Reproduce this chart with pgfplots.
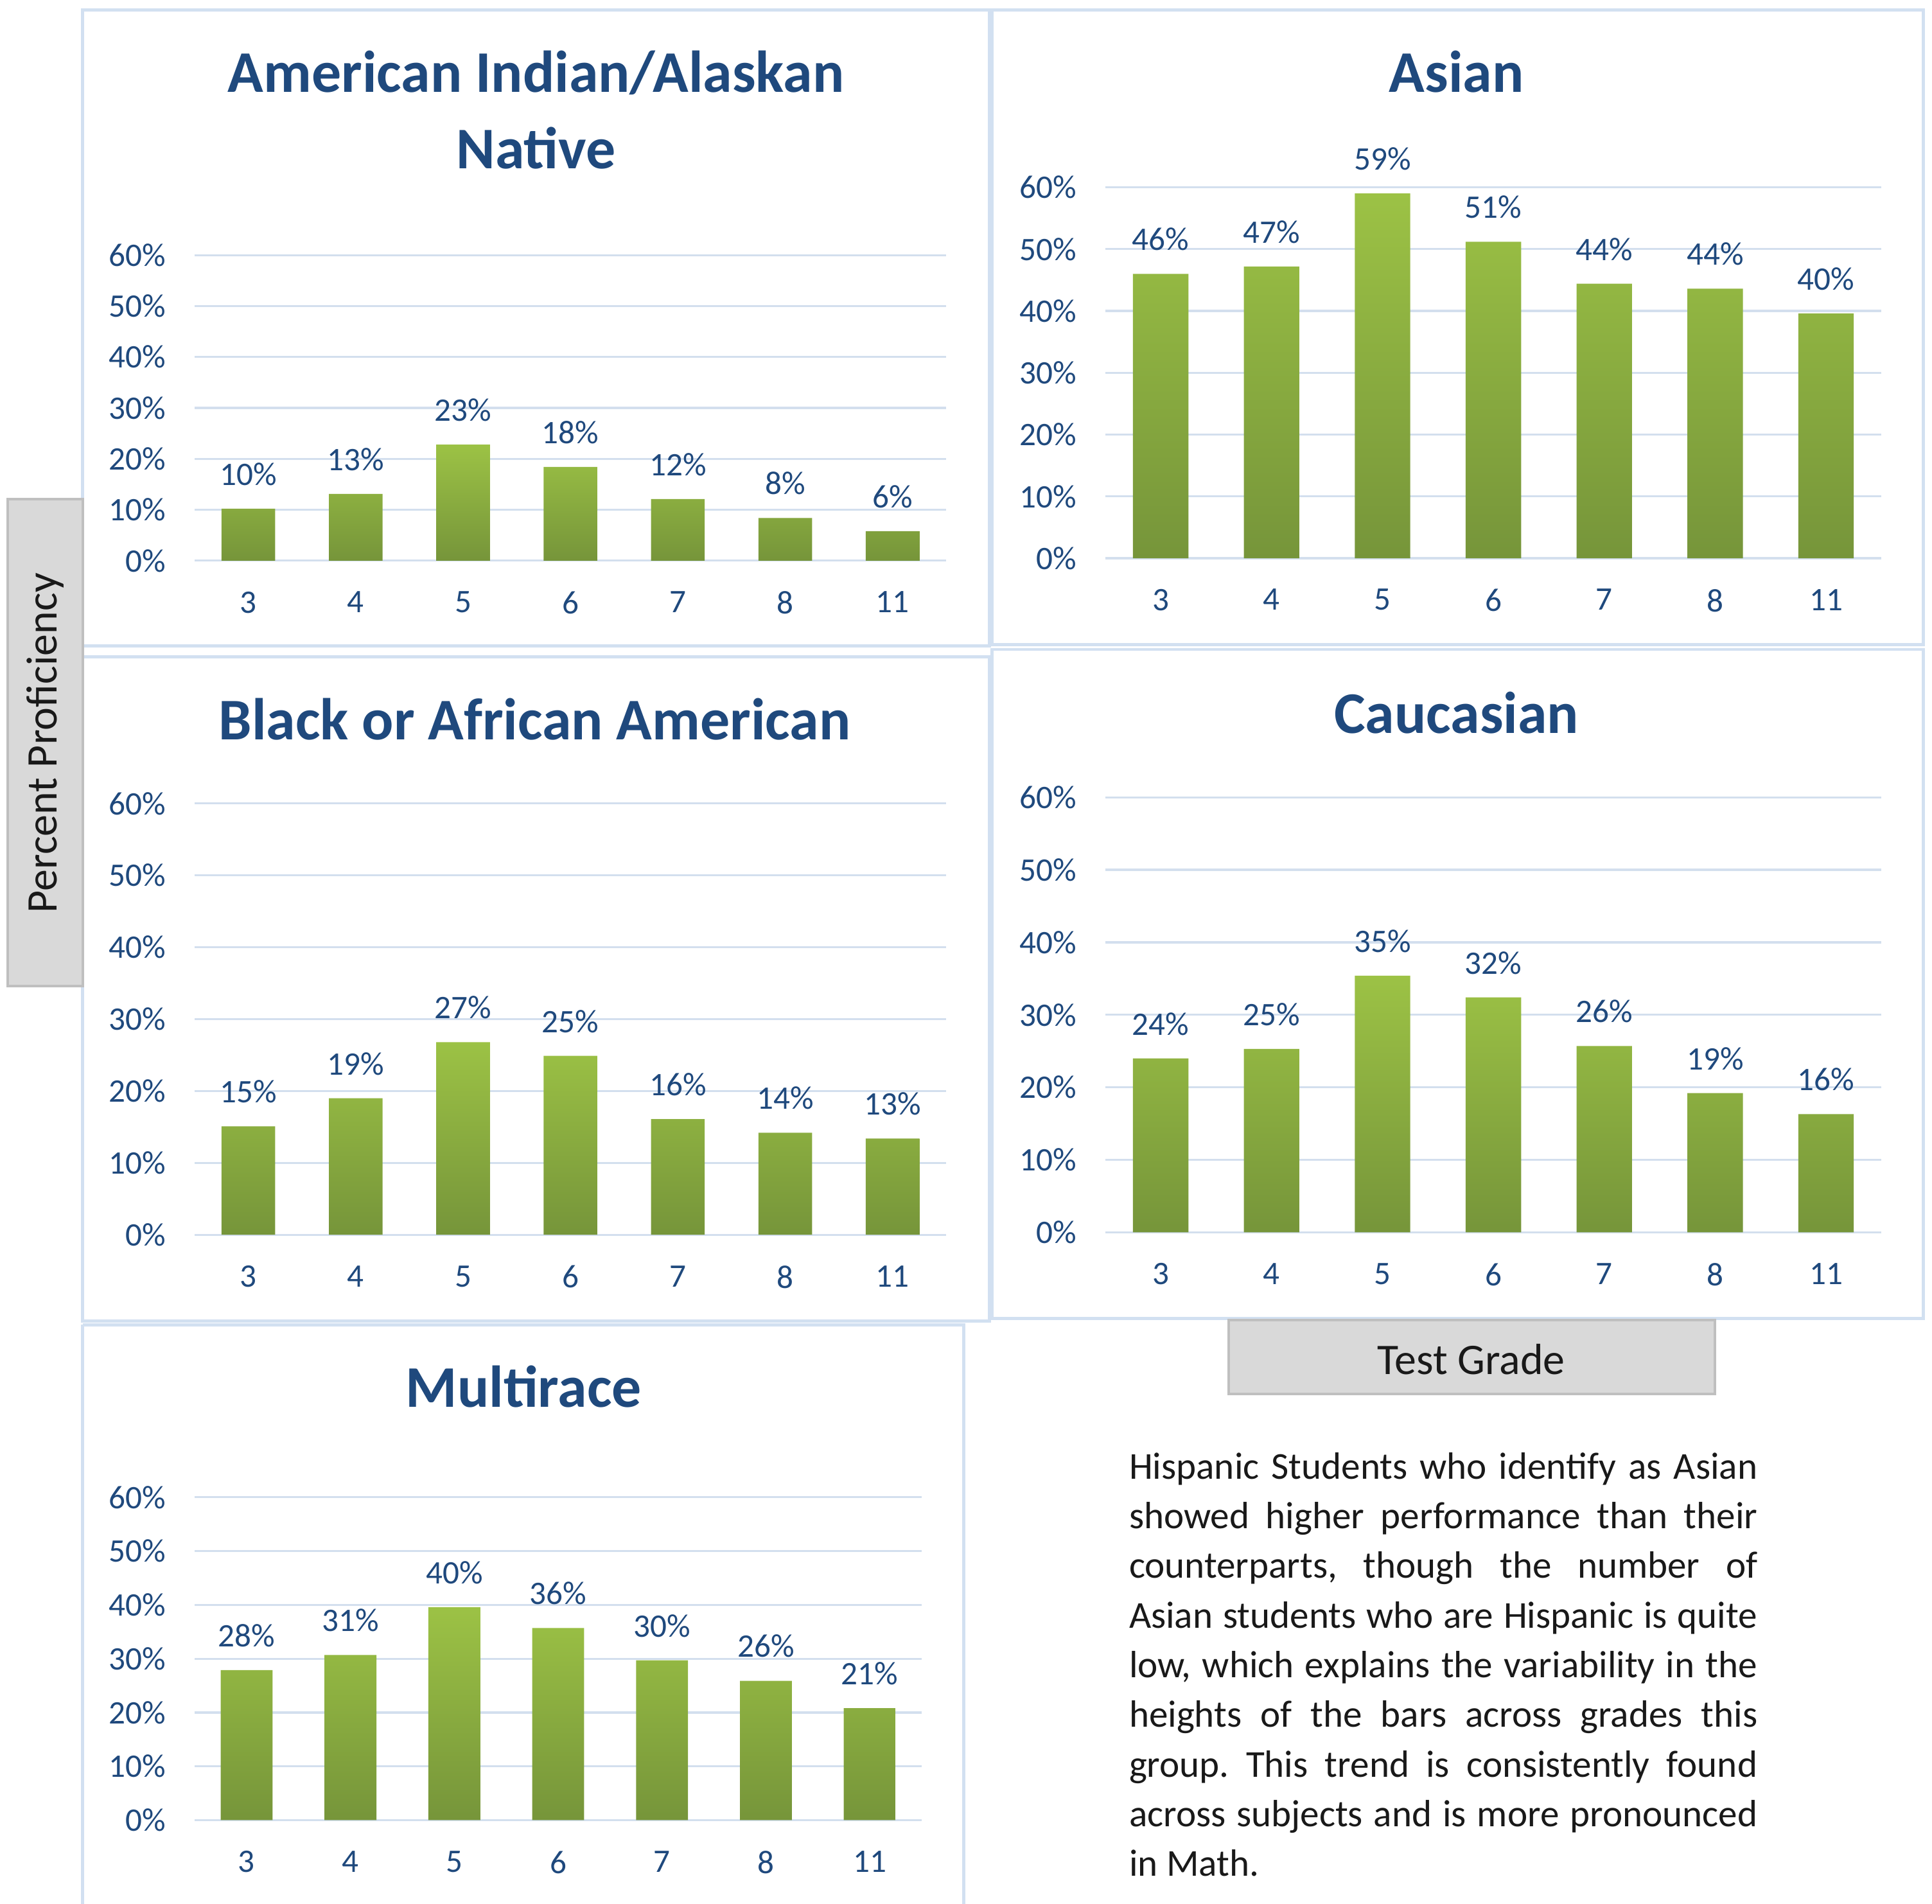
\documentclass[border=0pt]{standalone}
\usepackage{fontspec}
\setmainfont{Carlito}
\usepackage{pgfplots}
\pgfplotsset{compat=1.18}

\definecolor{tblue}{HTML}{1F497D}
\definecolor{gridc}{HTML}{D3DFEE}
\definecolor{framec}{HTML}{D2E0F1}
\definecolor{gtop}{HTML}{9CC245}
\definecolor{gbot}{HTML}{76953A}
\definecolor{boxfill}{HTML}{D9D9D9}
\definecolor{boxdraw}{HTML}{BFBFBF}

\pgfplotsset{panel/.style={
  scale only axis, anchor=south west,
  /pgf/number format/assume math mode=true,
  ymin=0, ymax=60, ytick={0,10,...,60},
  yticklabels={0\%,10\%,20\%,30\%,40\%,50\%,60\%},
  xmin=-0.5, xmax=6.5, xtick={0,...,6}, xticklabels={3,4,5,6,7,8,11},
  axis line style={draw=none}, major tick length=0pt,
  ymajorgrids, grid style={gridc, line width=0.8pt},
  tick label style={font=\fontsize{12.8}{15}\selectfont, text=tblue},
  yticklabel style={xshift=-7.7pt},
  xticklabel style={yshift=-8.5pt},
  clip=false,
  ybar, bar width=0.5,
  nodes near coords={\pgfmathprintnumber[fixed,precision=0,assume math mode=true]{\pgfplotspointmeta}\%},
  every node near coord/.append style={font=\fontsize{12.8}{15}\selectfont, text=tblue, yshift=5.5pt},
}, bars/.style={draw=none, top color=gtop, bottom color=gbot}}

\begin{document}
\begin{tikzpicture}[x=0.48pt,y=-0.48pt]
\useasboundingbox (0,0) rectangle (1568,1545);
% frames
\begin{scope}[draw=framec, line width=1.2pt]
\draw (67,8) rectangle (803,524);
\draw (805,8) rectangle (1561,523);
\draw (67,533) rectangle (803,1072);
\draw (805,527) rectangle (1561,1070);
\draw (67,1075) -- (67,1545);
\draw (67,1075) -- (782,1075) -- (782,1545);
\end{scope}
% titles
\begin{scope}[every node/.style={font=\fontsize{23}{28}\selectfont\bfseries, text=tblue, anchor=base}]
\node at (435,75) {American Indian/Alaskan};
\node at (435,137) {Native};
\node at (1182,75) {Asian};
\node at (434,600) {Black or African American};
\node at (1182,595) {Caucasian};
\node at (425,1142) {Multirace};
\end{scope}

\begin{axis}[panel, at={(75.84pt,-218.4pt)}, width=292.8pt, height=119.04pt]
\addplot[bars] coordinates {(0,10.2) (1,13.1) (2,22.8) (3,18.4) (4,12.1) (5,8.4) (6,5.8)};
\end{axis}
\begin{axis}[panel, at={(430.56pt,-217.44pt)}, width=302.4pt, height=144.48pt]
\addplot[bars] coordinates {(0,46.0) (1,47.2) (2,59.0) (3,51.2) (4,44.4) (5,43.6) (6,39.6)};
\end{axis}
\begin{axis}[panel, at={(75.84pt,-480.96pt)}, width=292.8pt, height=168pt]
\addplot[bars] coordinates {(0,15.1) (1,19.0) (2,26.8) (3,24.9) (4,16.1) (5,14.2) (6,13.4)};
\end{axis}
\begin{axis}[panel, at={(430.56pt,-480pt)}, width=302.4pt, height=169.44pt]
\addplot[bars] coordinates {(0,24.0) (1,25.3) (2,35.4) (3,32.4) (4,25.7) (5,19.2) (6,16.3)};
\end{axis}
\begin{axis}[panel, at={(75.84pt,-708.96pt)}, width=283.2pt, height=125.76pt]
\addplot[bars] coordinates {(0,27.9) (1,30.7) (2,39.6) (3,35.7) (4,29.7) (5,25.9) (6,20.8)};
\end{axis}

% axis title boxes
\draw[boxdraw, fill=boxfill, line width=1pt] (6,405) rectangle (67,800);
\node[rotate=90, font=\fontsize{17}{20}\selectfont, text=black!90] at (37,603) {Percent Proficiency};
\draw[boxdraw, fill=boxfill, line width=1pt] (997,1071) rectangle (1392,1131);
\node[font=\fontsize{17}{20}\selectfont, text=black!90] at (1194,1103) {Test Grade};
% paragraph
\node[anchor=base west, inner sep=0pt, text=black!90] at (916,1200) {\parbox[t]{244.8pt}{\fontsize{14.8}{19.35}\selectfont\frenchspacing
Hispanic Students who identify as Asian\linebreak
showed higher performance than their\linebreak
counterparts, though the number of\linebreak
Asian students who are Hispanic is quite\linebreak
low, which explains the variability in the\linebreak
heights of the bars across grades this\linebreak
group. This trend is consistently found\linebreak
across subjects and is more pronounced\linebreak
in Math.}};
\end{tikzpicture}
\end{document}
